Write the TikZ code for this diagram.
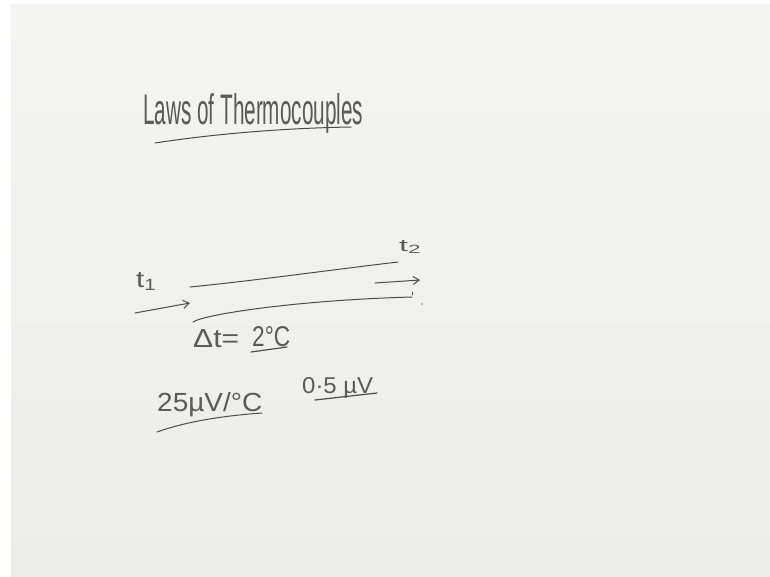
\documentclass[tikz,border=0pt]{standalone}
\usepackage{fontspec}
\setmainfont{Liberation Sans}
\usetikzlibrary{arrows.meta}
\definecolor{boardtop}{RGB}{244,244,242}
\definecolor{boardbot}{RGB}{236,236,233}
\definecolor{ink}{RGB}{75,75,75}
\definecolor{textink}{RGB}{90,90,90}
\newcommand\fitbox[3]{\resizebox{#1pt}{#2pt}{#3}}
\tikzset{
  pen/.style={draw=ink, line width=1.3pt, line cap=round},
  arr/.style={pen, -{Straight Barb[length=6pt,width=8pt]}},
  hand/.style={text=textink, inner sep=0pt, anchor=base west},
}
\begin{document}
\begin{tikzpicture}[x=1pt,y=-1pt]
\useasboundingbox (0,0) rectangle (770,576);
\fill[white] (0,0) rectangle (770,576);
\shade[top color=boardtop, bottom color=boardbot] (11,4) rectangle (770,576);
% title
\node[hand] (title) at (143,124) {\fitbox{220}{31}{Laws of Thermocouples}};
\coordinate (ul1a) at (155,143); \coordinate (ul1b) at (351,127);
\draw[pen, line width=1pt] (ul1a) .. controls (220,133) and (290,128) .. (ul1b);
% labels t1, t2
\node[hand] (t1) at (136,287) {\fitbox{21}{15}{t\textsubscript{1}}};
\node[hand] (t2) at (399,251) {\fitbox{23}{11}{t\textsubscript{2}}};
% wires
\coordinate (w1a) at (190,287); \coordinate (w1b) at (398,262);
\draw[pen, line width=1pt] (w1a) .. controls (260,280) and (330,270) .. (w1b);
\coordinate (w2a) at (193,322); \coordinate (w2b) at (412,297);
\draw[pen, line width=1pt] (w2a) .. controls (205,314) and (300,300) .. (w2b);
\draw[pen, line width=0.8pt] (412,292) -- (412,295);
\fill[ink!70] (422,304) circle (0.8);
% arrows
\coordinate (a1a) at (135,313); \coordinate (a1b) at (190,303);
\draw[arr, line width=1pt] (a1a) -- (a1b);
\coordinate (a2a) at (375,283); \coordinate (a2b) at (420,280);
\draw[arr, line width=1pt] (a2a) -- (a2b);
% delta t
\node[hand] (dt) at (193,347) {\fitbox{46}{18}{Δt=}};
\node[hand] (two) at (252,346) {\fitbox{38}{20}{2°C}};
\draw[pen, line width=1.2pt] (251,352) -- (287,347);
% values
\node[hand] (sens) at (157,411) {\fitbox{105}{19}{25µV/°C}};
\draw[pen, line width=1pt] (157,432) .. controls (185,422) and (220,416) .. (262,413);
\node[hand] (emf) at (302,393) {\fitbox{71}{16}{0·5 µV}};
\draw[pen, line width=1.2pt] (315,400) -- (377,393);
\end{tikzpicture}
\end{document}
